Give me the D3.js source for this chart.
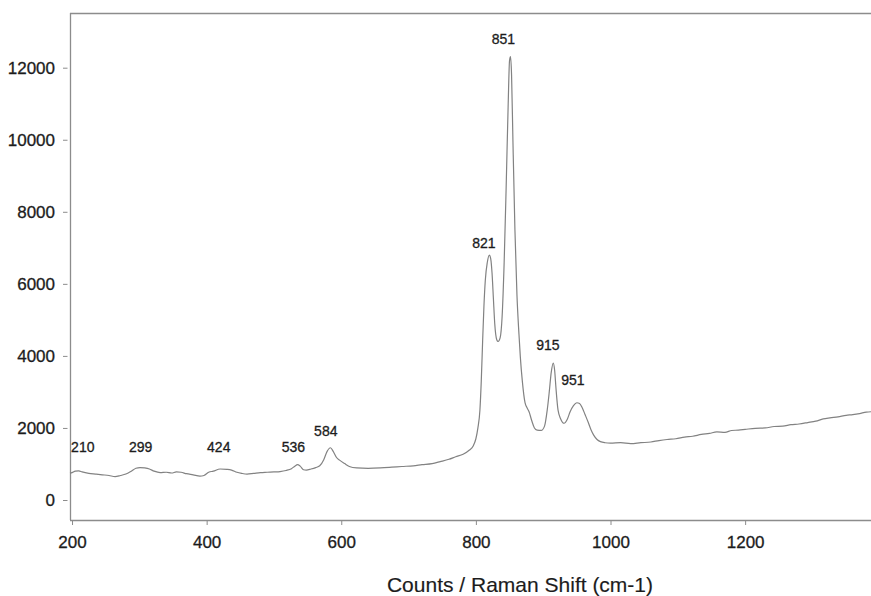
<!DOCTYPE html>
<html>
<head>
<meta charset="utf-8">
<script src="https://cdn.jsdelivr.net/npm/d3@7"></script>
<style>
	body { margin: 0; background: #fff; }
	svg { display: block; font-family: "Liberation Sans", Arial, sans-serif; }
	svg text { stroke: #1c1c1c; stroke-width: 0.3px; }
</style>
</head>
<body>
<svg id="chart" width="871" height="596"></svg>
<script>
	// Raman spectrum
	var shift = [197, 200, 205, 210, 215, 225, 235, 245, 255, 264, 272, 280, 288, 295, 301, 308, 315, 322, 331, 340,
		348, 355, 362, 370, 380, 390, 396, 403, 410, 420, 430, 437, 445, 452, 460, 470, 480, 490, 500, 509,
		518, 526, 531, 535, 539, 544, 548, 555, 562, 568, 574, 579, 584, 588, 593, 598, 605, 612, 623, 640,
		658, 675, 690, 707, 720, 735, 747, 760, 770, 781, 790, 796, 800, 803, 806, 808, 810, 812, 814, 817,
		820, 822, 824, 826, 828, 831, 833, 836, 839, 842, 845, 848, 850, 851.5, 853, 855, 858, 861, 864, 866,
		869, 873, 876, 879, 883, 887, 891, 897, 902, 906, 909, 912, 915, 917, 919, 922, 926, 931, 936, 940,
		945, 950, 954, 958, 962, 967, 971, 975, 980, 985, 992, 1000, 1015, 1030, 1045, 1060, 1072, 1084, 1097, 1110,
		1122, 1135, 1147, 1158, 1170, 1180, 1190, 1200, 1215, 1230, 1243, 1256, 1268, 1280, 1293, 1305, 1316, 1326, 1338, 1350,
		1360, 1370, 1380, 1387];
	var counts = [740, 760, 800, 810, 780, 740, 720, 700, 680, 650, 680, 720, 800, 880, 900, 890, 860, 800, 760, 770,
		750, 780, 770, 730, 700, 665, 680, 770, 800, 860, 850, 830, 770, 740, 720, 740, 760, 770, 780, 790,
		820, 870, 940, 980, 940, 840, 830, 860, 900, 950, 1120, 1350, 1450, 1350, 1180, 1100, 1010, 930, 890, 880,
		890, 910, 930, 950, 980, 1010, 1065, 1130, 1200, 1270, 1380, 1500, 1700, 2000, 2500, 3300, 4400, 5400, 6100, 6600,
		6800, 6700, 6300, 5600, 4900, 4450, 4400, 4500, 5100, 6600, 8700, 11000, 12200, 12310, 11800, 10000, 7500, 5700, 4600, 3980,
		3300, 2700, 2560, 2450, 2200, 2000, 1940, 1930, 2050, 2500, 3000, 3550, 3800, 3600, 3100, 2500, 2250, 2130, 2250, 2450,
		2620, 2700, 2680, 2560, 2380, 2150, 1950, 1800, 1680, 1620, 1590, 1580, 1590, 1565, 1590, 1610, 1650, 1680, 1700, 1745,
		1770, 1820, 1850, 1890, 1880, 1930, 1940, 1960, 1990, 2000, 2040, 2050, 2090, 2110, 2150, 2190, 2250, 2280, 2310, 2350,
		2370, 2400, 2440, 2450];

	// peak labels: text and anchor (shift, counts)
	var peakNames = ["210", "299", "424", "536", "584", "821", "851", "915", "951"];
	var peakLabelShift = [216, 302, 418, 529, 577, 812, 841, 907, 944];
	var peakLabelCounts = [1330, 1330, 1330, 1330, 1780, 7000, 12670, 4170, 3190];

	var xTicks = [200, 400, 600, 800, 1000, 1200];
	var yTicks = [0, 2000, 4000, 6000, 8000, 10000, 12000];
	var xTitle = "Counts / Raman Shift (cm-1)";

	var svg = d3.select("#chart");
	var plotLeft = 70, plotRight = 871, plotTop = 13, plotBottom = 520;

	var xScale = d3.scaleLinear().domain([197, 1387]).range([plotLeft, plotRight]);
	var yScale = d3.scaleLinear().domain([-555, 13518]).range([plotBottom, plotTop]);

	var axisColor = "#8c8c8c";
	var textColor = "#1c1c1c";

	// frame: top, left, bottom
	svg.append("line")
		.attr("x1", plotLeft).attr("x2", plotRight).attr("y1", plotTop + 0.5).attr("y2", plotTop + 0.5)
		.style("stroke", axisColor).style("stroke-width", 1.3);

	var yAxis = svg.append("g")
		.attr("transform", "translate(" + plotLeft + ",0)")
		.call(d3.axisLeft(yScale).tickValues(yTicks).tickSize(5).tickPadding(10).tickFormat(d3.format("d")));
	yAxis.select(".domain").remove();
	yAxis.selectAll(".tick line").attr("x1", -2.5).attr("x2", -7).style("stroke", axisColor);
	yAxis.selectAll("text").style("font-size", "17px").style("fill", textColor);

	var xAxis = svg.append("g")
		.attr("transform", "translate(0," + plotBottom + ")")
		.call(d3.axisBottom(xScale).tickValues(xTicks).tickSize(5).tickPadding(10.5).tickFormat(d3.format("d")));
	xAxis.select(".domain").remove();
	xAxis.selectAll(".tick line").style("stroke", axisColor);
	xAxis.selectAll("text").style("font-size", "17px").style("fill", textColor);

	svg.append("line")
		.attr("x1", plotLeft + 0.5).attr("x2", plotLeft + 0.5).attr("y1", plotTop).attr("y2", plotBottom)
		.style("stroke", axisColor).style("stroke-width", 1.3);
	svg.append("line")
		.attr("x1", plotLeft).attr("x2", plotRight).attr("y1", plotBottom + 0.5).attr("y2", plotBottom + 0.5)
		.style("stroke", axisColor).style("stroke-width", 1.3);

	// spectrum
	var points = shift.map(function(s, i) {
		return [s, counts[i]];
	});
	var line = d3.line()
		.x(function(d) { return xScale(d[0]); })
		.y(function(d) { return yScale(d[1]); })
		.curve(d3.curveMonotoneX);
	svg.append("path")
		.datum(points)
		.attr("d", line)
		.style("fill", "none")
		.style("stroke", "#828282")
		.style("stroke-width", 1.2);

	// peak labels
	svg.selectAll(".peak")
		.data(peakNames)
		.enter().append("text")
		.attr("class", "peak")
		.attr("x", function(d, i) { return xScale(peakLabelShift[i]); })
		.attr("y", function(d, i) { return yScale(peakLabelCounts[i]); })
		.attr("text-anchor", "middle")
		.style("font-size", "14px")
		.style("fill", textColor)
		.text(function(d) { return d; });

	svg.append("text")
		.attr("x", 520)
		.attr("y", 592)
		.attr("text-anchor", "middle")
		.style("font-size", "21px")
		.style("fill", textColor)
		.style("stroke-width", "0.15px")
		.text(xTitle);
</script>
</body>
</html>
